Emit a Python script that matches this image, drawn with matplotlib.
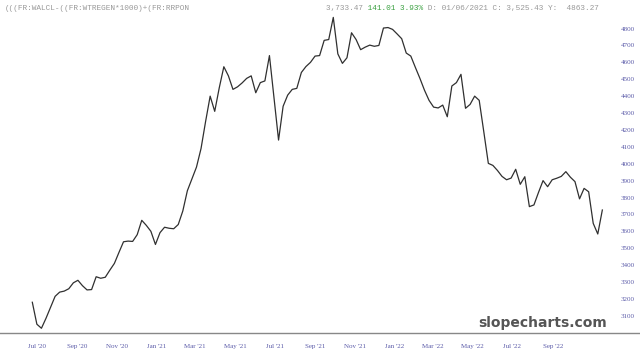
import matplotlib
matplotlib.use("Agg")
import matplotlib.pyplot as plt
import matplotlib.dates as mdates
from matplotlib.lines import Line2D
import pandas as pd

# weekly values (billions)
start_date = "2020-06-24"
values = [
    3180, 3050, 3026, 3085, 3150, 3215, 3240, 3246, 3260, 3295,
    3310, 3278, 3253, 3255, 3331, 3322, 3328, 3370, 3410, 3475,
    3538, 3542, 3540, 3580, 3665, 3635, 3600, 3522, 3592, 3624,
    3618, 3615, 3640, 3720, 3840, 3910, 3980, 4090, 4250, 4400,
    4310, 4450, 4574, 4520, 4440, 4455, 4478, 4505, 4520, 4420,
    4480, 4490, 4640, 4390, 4140, 4340, 4406, 4440, 4446, 4540,
    4575, 4600, 4637, 4640, 4730, 4735, 4866, 4650, 4594, 4627,
    4775, 4735, 4675, 4690, 4702, 4695, 4700, 4803, 4806, 4795,
    4768, 4740, 4655, 4637, 4570, 4505, 4435, 4375, 4335, 4330,
    4347, 4278, 4460, 4480, 4529, 4328, 4351, 4400, 4375, 4190,
    4002, 3990, 3960, 3925, 3905, 3915, 3967, 3878, 3923, 3746,
    3756, 3830, 3900, 3864, 3905, 3914, 3925, 3953, 3920, 3894,
    3792, 3854, 3834, 3647, 3584, 3726,
]
y_ticks = list(range(3100, 4801, 100))
x_tick_dates = pd.date_range("2020-07-01", "2022-09-01", freq="2MS")

header_left = "(((FR:WALCL-((FR:WTREGEN*1000)+(FR:RRPON"
hdr_a = "3,733.47 "
hdr_b = "141.01 3.93%"
hdr_c = " D: 01/06/2021 C: 3,525.43 Y:  4863.27"

dates = pd.date_range(start_date, periods=len(values), freq="7D")

fig = plt.figure(figsize=(6.4, 3.56), dpi=100)
ax = fig.add_axes([0.0, 0.0646, 0.961, 0.9354])

ax.plot(dates, values, color="#303030", linewidth=0.9)

ax.set_xlim(dates[0] - pd.Timedelta(days=49.6), dates[-1] + pd.Timedelta(days=19.5))
ax.set_ylim(2998, 4969)

for s in ax.spines.values():
    s.set_visible(False)

tick_font = "Liberation Serif"
ax.yaxis.tick_right()
ax.set_yticks(y_ticks)
ax.tick_params(axis="y", length=0, pad=4, labelsize=5, labelcolor="#5a5aa8")
ax.set_xticks(x_tick_dates)
ax.xaxis.set_major_formatter(mdates.DateFormatter("%b '%y"))
ax.tick_params(axis="x", length=0, pad=8, labelsize=5, labelcolor="#5a5aa8")
for lbl in ax.get_xticklabels() + ax.get_yticklabels():
    lbl.set_family(tick_font)

# bottom rule across the whole width
fig.add_artist(Line2D([0, 1], [0.0646, 0.0646], color="#888888", linewidth=1.0))

# header line, monospace so the coloured parts line up
mono = "Liberation Mono"
fig.text(0.008, 0.977, header_left, family=mono, fontsize=5.6, color="#999999", va="center")
fig.text(0.51, 0.977, hdr_a + " " * len(hdr_b) + hdr_c, family=mono, fontsize=5.6,
         color="#999999", va="center")
fig.text(0.51, 0.977, " " * len(hdr_a) + hdr_b + " " * len(hdr_c), family=mono, fontsize=5.6,
         color="#3aa040", va="center")

fig.text(0.948, 0.093, "slopecharts.com", ha="right", va="center", fontsize=10,
         fontweight="bold", color="#555555")

fig.savefig("out.png", dpi=100)
